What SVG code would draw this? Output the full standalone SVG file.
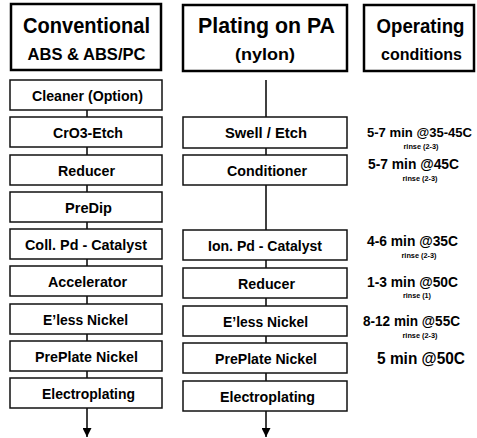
<svg xmlns="http://www.w3.org/2000/svg" width="477" height="438" viewBox="0 0 477 438">
  <style>
    text { font-family: "Liberation Sans", Arial, sans-serif; font-weight: bold; fill: #000; text-anchor: middle; }
    .hdr { fill: #fff; stroke: #000; stroke-width: 2.5; }
    .box { fill: #fff; stroke: #111; stroke-width: 1.5; }
    .big { font-size: 22px; }
    .sub { font-size: 17px; }
    .lbl { font-size: 15px; }
    .cond { font-size: 15px; }
    .cond2 { font-size: 17px; }
    .rinse { font-size: 8px; }
    .wire { stroke: #000; stroke-width: 1.5; fill: none; }
  </style>
  <defs>
    <marker id="arrow" viewBox="0 0 10 10" refX="10" refY="5" markerWidth="9" markerHeight="9" markerUnits="userSpaceOnUse" orient="auto">
      <path d="M0,0 L10,5 L0,10 z" fill="#000"/>
    </marker>
  </defs>
  <rect width="477" height="438" fill="#fff"/>

  <!-- connectors -->
  <g id="connectors">
    <!-- conventional line -->
    <line class="wire" x1="87" y1="110" x2="87" y2="117"/>
    <line class="wire" x1="87" y1="147" x2="87" y2="155"/>
    <line class="wire" x1="87" y1="185" x2="87" y2="192"/>
    <line class="wire" x1="87" y1="222" x2="87" y2="229"/>
    <line class="wire" x1="87" y1="259" x2="87" y2="266"/>
    <line class="wire" x1="87" y1="296" x2="87" y2="304"/>
    <line class="wire" x1="87" y1="334" x2="87" y2="341"/>
    <line class="wire" x1="87" y1="371" x2="87" y2="378"/>
    <line class="wire" x1="87" y1="408" x2="87" y2="437" marker-end="url(#arrow)"/>
    <!-- PA line -->
    <line class="wire" x1="266" y1="80" x2="266" y2="117"/>
    <line class="wire" x1="266" y1="148" x2="266" y2="155"/>
    <line class="wire" x1="266" y1="185" x2="266" y2="230"/>
    <line class="wire" x1="266" y1="260" x2="266" y2="268"/>
    <line class="wire" x1="266" y1="298" x2="266" y2="306"/>
    <line class="wire" x1="266" y1="336" x2="266" y2="343"/>
    <line class="wire" x1="266" y1="373" x2="266" y2="381"/>
    <line class="wire" x1="266" y1="411" x2="266" y2="437" marker-end="url(#arrow)"/>
  </g>

  <!-- column headers -->
  <g id="hdr-conventional">
    <rect class="hdr" x="11" y="4" width="150" height="66"/>
    <text class="big" x="86.5" y="33" textLength="127" lengthAdjust="spacingAndGlyphs">Conventional</text>
    <text class="sub" x="86.5" y="60" textLength="118" lengthAdjust="spacingAndGlyphs">ABS &amp; ABS/PC</text>
  </g>
  <g id="hdr-pa">
    <rect class="hdr" x="183" y="5" width="164" height="66"/>
    <text class="big" x="266.5" y="33" textLength="137" lengthAdjust="spacingAndGlyphs">Plating on  PA</text>
    <text class="sub" x="265" y="60" textLength="60" lengthAdjust="spacingAndGlyphs">(nylon)</text>
  </g>
  <g id="hdr-conditions">
    <rect class="hdr" x="364" y="5" width="110" height="66"/>
    <text x="420.5" y="33" font-size="20" textLength="88" lengthAdjust="spacingAndGlyphs">Operating</text>
    <text class="sub" x="421.5" y="60" textLength="81" lengthAdjust="spacingAndGlyphs">conditions</text>
  </g>

  <!-- conventional ABS & ABS/PC steps -->
  <g id="c-cleaner">
    <rect class="box" x="10" y="80" width="152" height="30"/>
    <text class="lbl" x="87.5" y="100.5" textLength="111" lengthAdjust="spacingAndGlyphs">Cleaner (Option)</text>
  </g>
  <g id="c-etch">
    <rect class="box" x="10" y="117" width="152" height="30"/>
    <text class="lbl" x="88" y="137.5" textLength="70" lengthAdjust="spacingAndGlyphs">CrO3-Etch</text>
  </g>
  <g id="c-reducer">
    <rect class="box" x="10" y="155" width="152" height="30"/>
    <text class="lbl" x="86.5" y="175.5" textLength="57" lengthAdjust="spacingAndGlyphs">Reducer</text>
  </g>
  <g id="c-predip">
    <rect class="box" x="10" y="192" width="152" height="30"/>
    <text class="lbl" x="88.5" y="212.5" textLength="47" lengthAdjust="spacingAndGlyphs">PreDip</text>
  </g>
  <g id="c-catalyst">
    <rect class="box" x="10" y="229" width="152" height="30"/>
    <text class="lbl" x="86" y="249.5" textLength="122" lengthAdjust="spacingAndGlyphs">Coll. Pd - Catalyst</text>
  </g>
  <g id="c-accelerator">
    <rect class="box" x="10" y="266" width="152" height="30"/>
    <text class="lbl" x="87.5" y="286.5" textLength="79" lengthAdjust="spacingAndGlyphs">Accelerator</text>
  </g>
  <g id="c-eless">
    <rect class="box" x="10" y="304" width="152" height="30"/>
    <text class="lbl" x="85.5" y="324.5" textLength="85" lengthAdjust="spacingAndGlyphs">E’less Nickel</text>
  </g>
  <g id="c-preplate">
    <rect class="box" x="10" y="341" width="152" height="30"/>
    <text class="lbl" x="86.5" y="361.5" textLength="103" lengthAdjust="spacingAndGlyphs">PrePlate Nickel</text>
  </g>
  <g id="c-electroplating">
    <rect class="box" x="10" y="378" width="152" height="30"/>
    <text class="lbl" x="88.5" y="398.5" textLength="93" lengthAdjust="spacingAndGlyphs">Electroplating</text>
  </g>

  <!-- PA (nylon) steps -->
  <g id="p-swell">
    <rect class="box" x="183" y="117" width="164" height="31"/>
    <text class="lbl" x="266" y="137.5" textLength="82" lengthAdjust="spacingAndGlyphs">Swell / Etch</text>
  </g>
  <g id="p-conditioner">
    <rect class="box" x="183" y="155" width="164" height="30"/>
    <text class="lbl" x="267" y="175.5" textLength="80" lengthAdjust="spacingAndGlyphs">Conditioner</text>
  </g>
  <g id="p-catalyst">
    <rect class="box" x="183" y="230" width="164" height="30"/>
    <text class="lbl" x="265" y="250.5" textLength="114" lengthAdjust="spacingAndGlyphs">Ion. Pd - Catalyst</text>
  </g>
  <g id="p-reducer">
    <rect class="box" x="183" y="268" width="164" height="30"/>
    <text class="lbl" x="266.5" y="288.5" textLength="57" lengthAdjust="spacingAndGlyphs">Reducer</text>
  </g>
  <g id="p-eless">
    <rect class="box" x="183" y="306" width="164" height="30"/>
    <text class="lbl" x="265.5" y="326.5" textLength="85" lengthAdjust="spacingAndGlyphs">E’less Nickel</text>
  </g>
  <g id="p-preplate">
    <rect class="box" x="183" y="343" width="164" height="30"/>
    <text class="lbl" x="266" y="363.5" textLength="102" lengthAdjust="spacingAndGlyphs">PrePlate Nickel</text>
  </g>
  <g id="p-electroplating">
    <rect class="box" x="183" y="381" width="164" height="30"/>
    <text class="lbl" x="267.5" y="401.5" textLength="95" lengthAdjust="spacingAndGlyphs">Electroplating</text>
  </g>

  <!-- operating conditions -->
  <g id="conditions">
    <text x="419.5" y="137" font-size="13.5" textLength="105" lengthAdjust="spacingAndGlyphs">5-7 min @35-45C</text>
    <text class="rinse" x="421" y="149" textLength="35" lengthAdjust="spacingAndGlyphs">rinse (2-3)</text>
    <text class="cond" x="413.5" y="169" textLength="91" lengthAdjust="spacingAndGlyphs">5-7 min @45C</text>
    <text class="rinse" x="420" y="181" textLength="35" lengthAdjust="spacingAndGlyphs">rinse (2-3)</text>
    <text class="cond" x="412.5" y="246" textLength="91" lengthAdjust="spacingAndGlyphs">4-6 min @35C</text>
    <text class="rinse" x="419" y="258" textLength="35" lengthAdjust="spacingAndGlyphs">rinse (2-3)</text>
    <text class="cond" x="412.5" y="287" textLength="91" lengthAdjust="spacingAndGlyphs">1-3 min @50C</text>
    <text class="rinse" x="417" y="298" textLength="28" lengthAdjust="spacingAndGlyphs">rinse (1)</text>
    <text class="cond" x="411.5" y="326" textLength="97" lengthAdjust="spacingAndGlyphs">8-12 min @55C</text>
    <text class="rinse" x="420" y="338" textLength="35" lengthAdjust="spacingAndGlyphs">rinse (2-3)</text>
    <text class="cond2" x="421" y="364" textLength="88" lengthAdjust="spacingAndGlyphs">5 min @50C</text>
  </g>
</svg>
